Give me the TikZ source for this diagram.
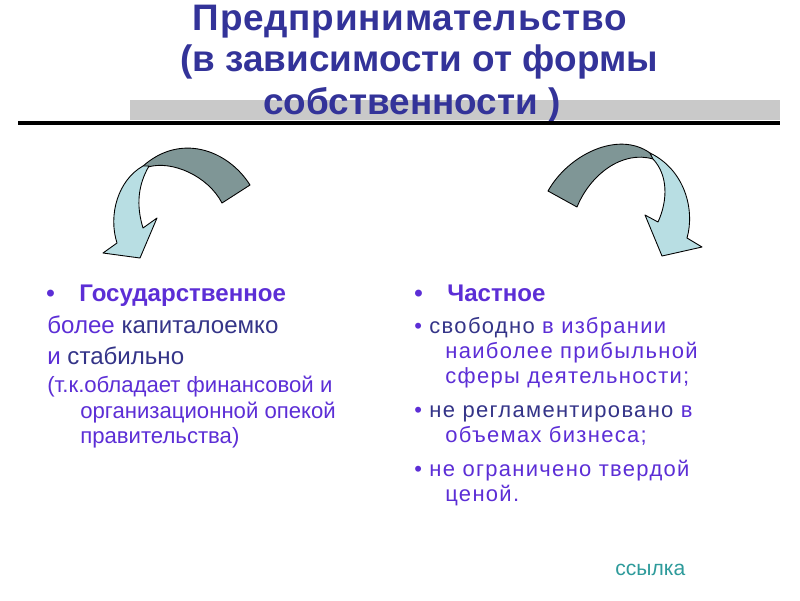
\documentclass[tikz,border=0pt]{standalone}
\usepackage{fontspec}
\setmainfont{Liberation Sans}
\usetikzlibrary{positioning}

\definecolor{titleblue}{HTML}{333399}
\definecolor{violet}{HTML}{5C2ED6}
\definecolor{navy}{HTML}{343488}
\definecolor{linkteal}{HTML}{2E9B9B}
\definecolor{arrowdark}{HTML}{7F9696}
\definecolor{arrowlight}{HTML}{B8DEE3}

\tikzset{
  titletext/.style={text=titleblue,font=\bfseries\fontsize{21}{24}\selectfont,inner sep=0pt,anchor=base},
  headtext/.style={text=violet,font=\bfseries\fontsize{13.7}{16}\selectfont,anchor=base west,inner sep=0pt},
  bodytext/.style={text=violet,font=\fontsize{13.7}{16}\selectfont,anchor=base west,inner sep=0pt},
  smalltext/.style={text=violet,font=\fontsize{12.6}{15}\selectfont,anchor=base west,inner sep=0pt},
  listtext/.style={text=violet,font=\fontsize{12.5}{15}\selectfont\addfontfeature{LetterSpace=6},anchor=base west,inner sep=0pt},
  darkpart/.style={fill=arrowdark,draw=black,line width=0.5pt,line join=round},
  lightpart/.style={fill=arrowlight,draw=black,line width=0.5pt,line join=round}
}

\begin{document}
\begin{tikzpicture}[x=0.02cm,y=-0.02cm]
    \useasboundingbox[fill=white] (0,0) rectangle (800,600);

    % title
    \node[titletext,font=\bfseries\fontsize{21}{24}\selectfont\addfontfeature{LetterSpace=2}] (t1) at (410,30) {Предпринимательство};
    \node[titletext] (t2) at (419,71) {(в зависимости от формы};
    \fill[black!21] (130,100) rectangle (780,120);
    \node[titletext] (t3) at (412,114) {собственности )};
    \fill[black] (18,120.5) rectangle (780,125);

    % left arrow
    \draw[darkpart] (250,185) .. controls (228,150) and (180,132) .. (142,167)
        -- (148,167) .. controls (172,160) and (208,176) .. (222,203) -- cycle;
    \draw[lightpart] (143,166) .. controls (118,180) and (108,215) .. (117,243)
        -- (103,253) -- (140,258) -- (157,218) -- (143,228)
        .. controls (136,205) and (138,185) .. (149,166) -- cycle;

    % right arrow
    \draw[darkpart] (548,191) .. controls (568,155) and (618,130) .. (650,153)
        -- (653,159) .. controls (622,150) and (590,175) .. (577,207) -- cycle;
    \draw[lightpart] (650,153) .. controls (685,170) and (695,210) .. (687,238)
        -- (702,247) -- (662,256) -- (645,215) -- (658,222)
        .. controls (668,200) and (668,175) .. (653,159) -- cycle;

    % left column
    \node[headtext] (lb) at (46,301) {•};
    \node[headtext] (gos) at (79,301) {Государственное};
    \node[bodytext] (l1) at (47,333) {более \textcolor{navy}{капиталоемко}};
    \node[bodytext] (l2) at (47,364) {и \textcolor{navy}{стабильно}};
    \node[smalltext] (l3) at (47,392) {(т.к.обладает финансовой и};
    \node[smalltext] (l4) at (80,418) {организационной опекой};
    \node[smalltext] (l5) at (80,443) {правительства)};

    % right column
    \node[headtext] (rb) at (414,301) {•};
    \node[headtext] (chast) at (447,301) {Частное};
    \node[listtext] (r1) at (414,333) {• \textcolor{navy}{свободно} в избрании};
    \node[listtext] (r2) at (445,358) {наиболее прибыльной};
    \node[listtext] (r3) at (445,383) {сферы деятельности;};
    \node[listtext] (r4) at (414,417) {• \textcolor{navy}{не регламентировано} в};
    \node[listtext] (r5) at (445,442) {объемах бизнеса;};
    \node[listtext] (r6) at (414,476) {• не ограничено твердой};
    \node[listtext] (r7) at (445,501) {ценой.};

    \node[bodytext,text=linkteal,font=\fontsize{12}{14}\selectfont] (link) at (615,575) {ссылка};
\end{tikzpicture}
\end{document}
